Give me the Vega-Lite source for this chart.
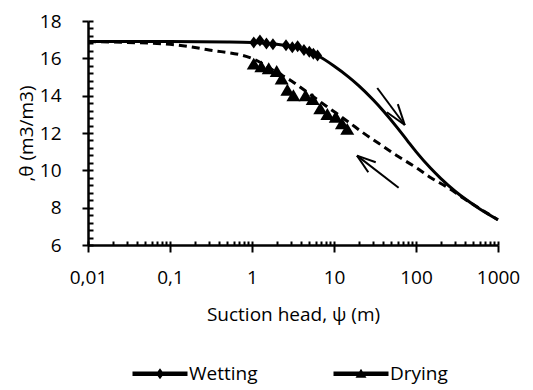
{
  "$schema": "https://vega.github.io/schema/vega-lite/v6.json",
  "width": 410,
  "height": 224,
  "autosize": {"type": "none"},
  "padding": {"left": 88, "top": 21, "right": 35, "bottom": 145},
  "background": "white",
  "config": {
    "view": {"stroke": null},
    "font": "Open Sans",
    "axis": {"grid": false, "domainColor": "black", "tickColor": "black", "labelColor": "black", "titleColor": "black"}
  },
  "datasets": {
    "wetCurve": [
      {"psi": 0.01, "theta": 16.9}, {"psi": 0.1, "theta": 16.9}, {"psi": 0.5, "theta": 16.88},
      {"psi": 1, "theta": 16.85}, {"psi": 2, "theta": 16.75}, {"psi": 4, "theta": 16.5},
      {"psi": 6.3, "theta": 16.15}, {"psi": 10, "theta": 15.59}, {"psi": 15, "theta": 15.01},
      {"psi": 20, "theta": 14.54}, {"psi": 30, "theta": 13.78}, {"psi": 40, "theta": 13.18},
      {"psi": 60, "theta": 12.25}, {"psi": 80, "theta": 11.54}, {"psi": 100, "theta": 11.0},
      {"psi": 150, "theta": 10.12}, {"psi": 200, "theta": 9.57}, {"psi": 300, "theta": 8.88},
      {"psi": 400, "theta": 8.46}, {"psi": 600, "theta": 7.93}, {"psi": 1000, "theta": 7.35}
    ],
    "dryCurve": [
      {"psi": 0.01, "theta": 16.9}, {"psi": 0.03, "theta": 16.85}, {"psi": 0.1, "theta": 16.75},
      {"psi": 0.3, "theta": 16.45}, {"psi": 1, "theta": 16.0}, {"psi": 2, "theta": 15.25},
      {"psi": 3, "theta": 14.8}, {"psi": 5, "theta": 14.1}, {"psi": 8, "theta": 13.45},
      {"psi": 12, "theta": 12.9}, {"psi": 16, "theta": 12.5}, {"psi": 22, "theta": 12.05},
      {"psi": 35, "theta": 11.45}, {"psi": 58, "theta": 10.8}, {"psi": 100, "theta": 10.15},
      {"psi": 150, "theta": 9.62}, {"psi": 250, "theta": 9.05}, {"psi": 380, "theta": 8.5},
      {"psi": 600, "theta": 7.95}, {"psi": 1000, "theta": 7.35}
    ],
    "wetObs": [
      {"psi": 1.05, "theta": 16.85}, {"psi": 1.25, "theta": 16.95}, {"psi": 1.5, "theta": 16.8},
      {"psi": 1.8, "theta": 16.75}, {"psi": 2.6, "theta": 16.7}, {"psi": 3.1, "theta": 16.6},
      {"psi": 3.6, "theta": 16.65}, {"psi": 4.3, "theta": 16.45}, {"psi": 5.0, "theta": 16.35},
      {"psi": 5.6, "theta": 16.25}, {"psi": 6.3, "theta": 16.15}
    ],
    "dryObs": [
      {"psi": 1.05, "theta": 15.7}, {"psi": 1.3, "theta": 15.55}, {"psi": 1.6, "theta": 15.45},
      {"psi": 2.0, "theta": 15.3}, {"psi": 2.3, "theta": 14.9}, {"psi": 2.7, "theta": 14.3},
      {"psi": 3.2, "theta": 14.0}, {"psi": 4.5, "theta": 14.0}, {"psi": 5.5, "theta": 13.8},
      {"psi": 6.8, "theta": 13.3}, {"psi": 8.3, "theta": 13.0}, {"psi": 10.5, "theta": 12.85},
      {"psi": 12.5, "theta": 12.5}, {"psi": 14.5, "theta": 12.2}
    ],
    "arrows": [
      {"psi": 33.7, "theta": 14.41, "psi2": 73.0, "theta2": 12.43},
      {"psi": 73.0, "theta": 12.43, "psi2": 60.0, "theta2": 13.55},
      {"psi": 73.0, "theta": 12.43, "psi2": 44.2, "theta2": 13.11},
      {"psi": 61.4, "theta": 9.07, "psi2": 19.08, "theta2": 10.79},
      {"psi": 19.08, "theta": 10.79, "psi2": 26.2, "theta2": 9.9},
      {"psi": 19.08, "theta": 10.79, "psi2": 32.3, "theta2": 10.43}
    ]
  },
  "layer": [
    {
      "data": {"name": "wetCurve"},
      "mark": {"type": "line", "strokeWidth": 3, "interpolate": "monotone"},
      "encoding": {
        "x": {
          "field": "psi", "type": "quantitative",
          "scale": {"type": "log", "domain": [0.01, 1000], "nice": false},
          "axis": {
            "orient": "bottom",
            "values": [0.01, 0.1, 1, 10, 100, 1000],
            "labelExpr": "replace(toString(datum.value), '.', ',')",
            "tickSize": 7, "tickWidth": 2, "domainWidth": 2.5,
            "labelFont": "Open Sans", "labelFontSize": 19, "labelPadding": 16,
            "labelFlush": false, "labelOverlap": false,
            "title": "Suction head, ψ (m)", "titleFont": "Open Sans", "titleFontSize": 19,
            "titleFontWeight": "normal", "titleColor": "#000000", "titlePadding": 18
          }
        },
        "y": {
          "field": "theta", "type": "quantitative",
          "scale": {"domain": [6, 18], "nice": false, "zero": false},
          "axis": {
            "orient": "left",
            "values": [6, 8, 10, 12, 14, 16, 18],
            "tickSize": 6, "tickWidth": 2, "domainWidth": 2.5,
            "labelFont": "Open Sans", "labelFontSize": 19, "labelPadding": 21,
            "title": ",θ  (m3/m3)", "titleFont": "Open Sans", "titleFontSize": 19,
            "titleFontWeight": "normal", "titleColor": "#000000", "titlePadding": 3
          }
        },
        "color": {
          "datum": "Wetting",
          "scale": {"domain": ["Wetting", "Drying"], "range": ["black", "black"]},
          "legend": {
            "orient": "none", "legendX": 62.5, "legendY": 343,
            "direction": "horizontal", "title": null,
            "labelFont": "Open Sans", "labelFontSize": 19, "labelColor": "black",
            "labelOffset": 19.5, "columnPadding": 75, "symbolSize": 100,
            "encode": {
              "symbols": {
                "update": {
                  "shape": {"signal": "datum.value === 'Wetting' ? 'M-5.5,-0.45H5.5V0.45H-5.5Z M0,-1.1L0.8,0L0,1.1L-0.8,0Z' : 'M-5.5,-0.45H5.5V0.45H-5.5Z M0,-1L1.1,0.8L-1.1,0.8Z'"},
                  "fill": {"value": "black"},
                  "fillOpacity": {"value": 1},
                  "strokeWidth": {"value": 0}
                }
              }
            }
          }
        }
      }
    },
    {
      "data": {"name": "dryCurve"},
      "mark": {"type": "line", "strokeWidth": 3, "strokeDash": [8, 5], "interpolate": "monotone"},
      "encoding": {
        "x": {
          "field": "psi", "type": "quantitative",
          "axis": {
            "orient": "bottom",
            "values": [0.01, 0.02, 0.03, 0.04, 0.05, 0.06, 0.07, 0.08, 0.09,
                       0.1, 0.2, 0.3, 0.4, 0.5, 0.6, 0.7, 0.8, 0.9,
                       1, 2, 3, 4, 5, 6, 7, 8, 9,
                       10, 20, 30, 40, 50, 60, 70, 80, 90,
                       100, 200, 300, 400, 500, 600, 700, 800, 900, 1000],
            "tickSize": -4, "tickWidth": 2, "labels": false, "domain": false, "title": null
          }
        },
        "y": {
          "field": "theta", "type": "quantitative",
          "axis": {
            "orient": "left",
            "values": [6, 6.4, 6.8, 7.2, 7.6, 8, 8.4, 8.8, 9.2, 9.6, 10, 10.4, 10.8, 11.2, 11.6,
                       12, 12.4, 12.8, 13.2, 13.6, 14, 14.4, 14.8, 15.2, 15.6, 16, 16.4, 16.8,
                       17.2, 17.6, 18],
            "tickSize": -5, "tickWidth": 2, "labels": false, "domain": false, "title": null
          }
        },
        "color": {"datum": "Drying"}
      }
    },
    {
      "data": {"name": "wetObs"},
      "mark": {"type": "point", "shape": "M0,-1L0.75,0L0,1L-0.75,0Z", "size": 144, "filled": true, "color": "black", "opacity": 1},
      "encoding": {
        "x": {"field": "psi", "type": "quantitative", "axis": null},
        "y": {"field": "theta", "type": "quantitative", "axis": null}
      }
    },
    {
      "data": {"name": "dryObs"},
      "mark": {"type": "point", "shape": "M0,-0.9L1,0.8L-1,0.8Z", "size": 196, "filled": true, "color": "black", "opacity": 1},
      "encoding": {
        "x": {"field": "psi", "type": "quantitative", "axis": null},
        "y": {"field": "theta", "type": "quantitative", "axis": null}
      }
    },
    {
      "data": {"name": "arrows"},
      "mark": {"type": "rule", "strokeWidth": 2, "color": "black"},
      "encoding": {
        "x": {"field": "psi", "type": "quantitative", "axis": null},
        "y": {"field": "theta", "type": "quantitative", "axis": null},
        "x2": {"field": "psi2"},
        "y2": {"field": "theta2"}
      }
    }
  ],
  "resolve": {"axis": {"x": "independent", "y": "independent"}}
}
